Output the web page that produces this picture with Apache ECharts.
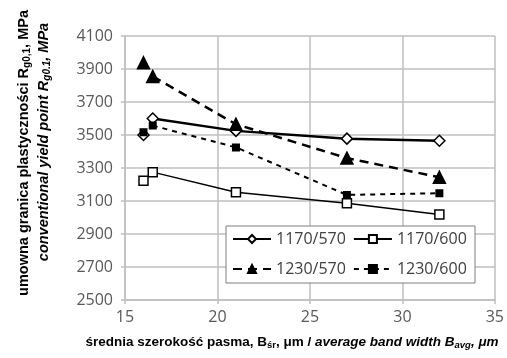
<!DOCTYPE html>
<html><head><meta charset="utf-8">
<script src="https://cdn.jsdelivr.net/npm/echarts@6/dist/echarts.min.js"></script>
<style>html,body{margin:0;padding:0;background:#fff}#c{width:507px;height:358px}</style>
</head><body><div id="c"></div>
<script>
// Data
var xMain = [16.5, 21, 27, 32];
var xFirst = 16;
var s1170_570 = [3600, 3525, 3478, 3465];
var s1170_600 = [3275, 3153, 3087, 3018];
var s1230_570 = [3855, 3565, 3360, 3244];
var s1230_600 = [3557, 3425, 3137, 3147];
var first1170_570 = 3500;
var first1170_600 = 3222;
var first1230_570 = 3938;
var first1230_600 = 3517;
var xTicks = [15, 20, 25, 30, 35];
var yTicks = [2500, 2700, 2900, 3100, 3300, 3500, 3700, 3900, 4100];
var names = ['1170/570', '1170/600', '1230/570', '1230/600'];

function pairs(xs, ys) { return xs.map(function (x, i) { return [x, ys[i]]; }); }

var chart = echarts.init(document.getElementById('c'), null, {renderer: 'canvas'});
var lab = {fontFamily: 'Open Sans', fontSize: 16, color: '#595959'};
var gridCol = '#bfbfbf';

var styles = [
  {name: names[0], ys: s1170_570, f: first1170_570, symbol: 'diamond', size: 11, fill: '#fff', lw: 2.5, type: 'solid'},
  {name: names[1], ys: s1170_600, f: first1170_600, symbol: 'rect', size: 9, fill: '#fff', lw: 1.5, type: 'solid'},
  {name: names[2], ys: s1230_570, f: first1230_570, symbol: 'triangle', size: 12, fill: '#000', lw: 2.5, type: [9, 6]},
  {name: names[3], ys: s1230_600, f: first1230_600, symbol: 'rect', size: 6.5, fill: '#000', lw: 2, type: [5, 5]}
];
var order = [2, 3, 1, 0];
var series = [];
order.forEach(function (k) {
  var s = styles[k];
  series.push({
    name: s.name, type: 'line', data: pairs(xMain, s.ys),
    symbol: s.symbol, symbolSize: s.size, showAllSymbol: true,
    lineStyle: {color: '#000', width: s.lw, type: s.type},
    itemStyle: {color: s.fill, borderColor: '#000', borderWidth: 1.5, opacity: 1},
    emphasis: {disabled: true}, animation: false, z: 3 + k
  });
  series.push({
    name: s.name + ' (a)', type: 'scatter', data: [[xFirst, s.f]],
    symbol: s.symbol, symbolSize: s.size,
    itemStyle: {color: s.fill, borderColor: '#000', borderWidth: 1.5, opacity: 1},
    emphasis: {disabled: true}, animation: false, z: 3 + k
  });
});

var legendCommon = {
  itemWidth: 38, itemHeight: 10, itemGap: 7, z: 8, padding: 0,
  textStyle: {fontFamily: 'Open Sans', fontSize: 16, color: '#404040'},
  selectedMode: false, orient: 'horizontal'
};

chart.setOption({
  animation: false,
  grid: {left: 125, right: 12, top: 36, bottom: 58},
  xAxis: {
    type: 'value', min: 15, max: 35, interval: 5,
    axisLine: {show: true, lineStyle: {color: gridCol, width: 1.5}},
    axisTick: {show: true, length: 4, lineStyle: {color: gridCol, width: 1.5}},
    axisLabel: Object.assign({margin: 9, formatter: function (v) { return String(v); }}, lab),
    splitLine: {show: true, lineStyle: {color: gridCol, width: 1.5}}
  },
  yAxis: {
    type: 'value', min: 2500, max: 4100, interval: 200,
    axisLine: {show: true, lineStyle: {color: gridCol, width: 1.5}},
    axisTick: {show: true, length: 4, lineStyle: {color: gridCol, width: 1.5}},
    axisLabel: Object.assign({margin: 12, formatter: function (v) { return String(v); }}, lab),
    splitLine: {show: true, lineStyle: {color: gridCol, width: 1.5}}
  },
  legend: [
    Object.assign({data: [names[0], names[1]], left: 232, top: 231}, legendCommon),
    Object.assign({data: [names[2], names[3]], left: 232, top: 261}, legendCommon)
  ],
  graphic: [
    {type: 'rect', shape: {x: 226, y: 226, width: 249, height: 57},
     style: {fill: '#fff', stroke: '#7f7f7f', lineWidth: 1}, z: 1, silent: true},
    {type: 'text', x: 24, y: 153, rotation: Math.PI / 2, silent: true,
     style: {
       text: '{b|umowna granica plastyczności R}{s|g0,1}{b|, MPa}',
       align: 'center', verticalAlign: 'middle',
       rich: {
         b: {fontFamily: 'Liberation Sans', fontWeight: 'bold', fontSize: 14.5, fill: '#000', lineHeight: 18},
         s: {fontFamily: 'Liberation Sans', fontWeight: 'bold', fontSize: 10, fill: '#000', lineHeight: 18, padding: [6, 0, 0, 0]}
       }
     }},
    {type: 'text', x: 44, y: 142, rotation: Math.PI / 2, silent: true,
     style: {
       text: '{b|conventional yield point }{i|R}{s|g0.1}{i|, MPa}',
       align: 'center', verticalAlign: 'middle',
       rich: {
         b: {fontFamily: 'Liberation Sans', fontWeight: 'bold', fontStyle: 'italic', fontSize: 14.5, fill: '#000', lineHeight: 18},
         i: {fontFamily: 'Liberation Sans', fontWeight: 'bold', fontStyle: 'italic', fontSize: 14.5, fill: '#000', lineHeight: 18},
         s: {fontFamily: 'Liberation Sans', fontWeight: 'bold', fontStyle: 'italic', fontSize: 10, fill: '#000', lineHeight: 18, padding: [6, 0, 0, 0]}
       }
     }},
    {type: 'text', x: 292, y: 342, silent: true,
     style: {
       text: '{b|średnia szerokość pasma, B}{s|śr}{b|, μm / }{i|average band width B}{si|avg}{i|, μm}',
       align: 'center', verticalAlign: 'middle',
       rich: {
         b: {fontFamily: 'Liberation Sans', fontWeight: 'bold', fontSize: 13.5, fill: '#000', lineHeight: 18},
         s: {fontFamily: 'Liberation Sans', fontWeight: 'bold', fontSize: 9.5, fill: '#000', lineHeight: 18, padding: [6, 0, 0, 0]},
         i: {fontFamily: 'Liberation Sans', fontWeight: 'bold', fontStyle: 'italic', fontSize: 13.5, fill: '#000', lineHeight: 18},
         si: {fontFamily: 'Liberation Sans', fontWeight: 'bold', fontStyle: 'italic', fontSize: 9.5, fill: '#000', lineHeight: 18, padding: [6, 0, 0, 0]}
       }
     }}
  ],
  series: series
});
</script></body></html>
